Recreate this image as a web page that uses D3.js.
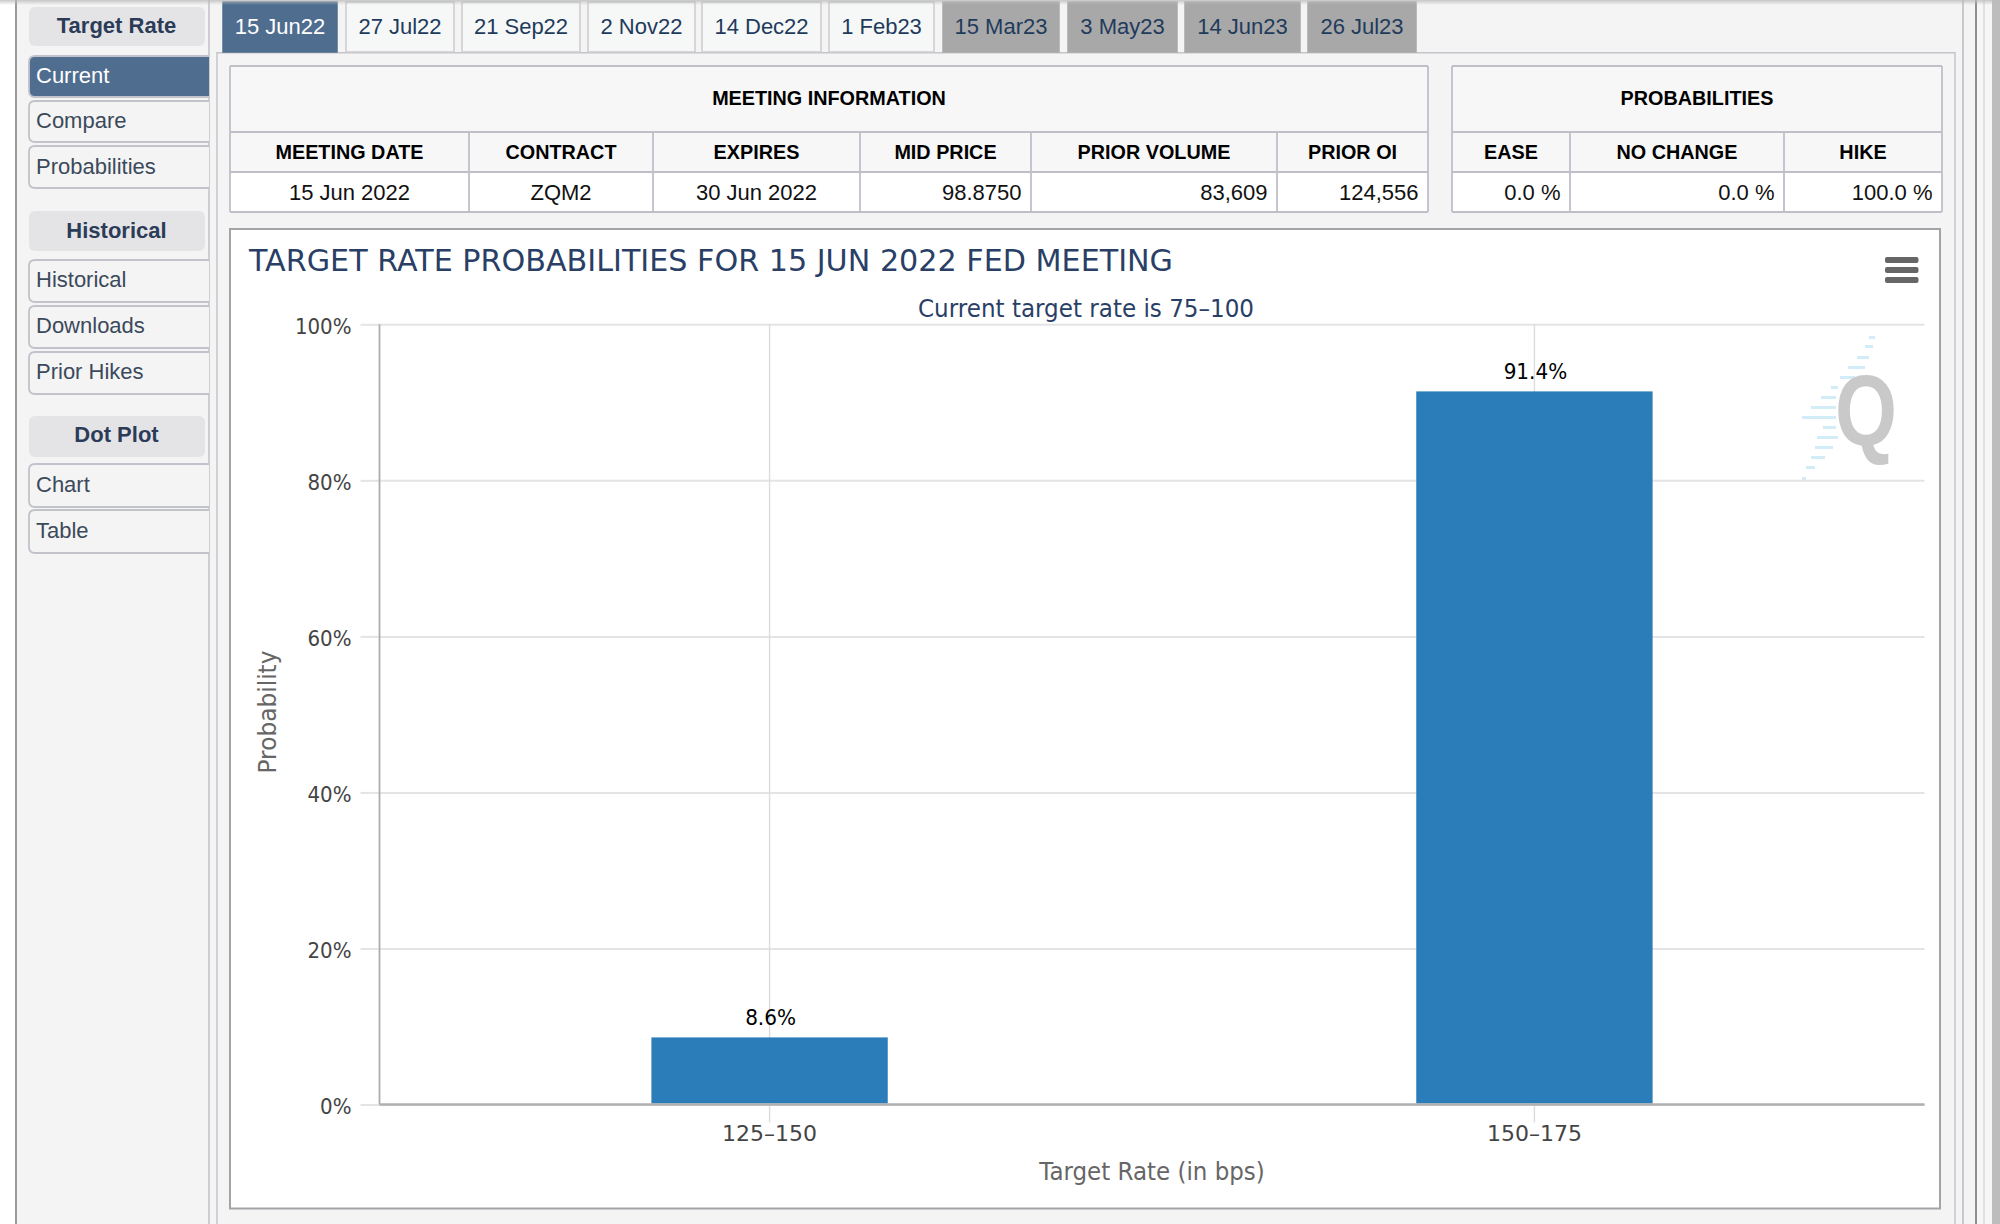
<!DOCTYPE html>
<html>
<head>
<meta charset="utf-8">
<title>Target rate probabilities</title>
<script src="https://d3js.org/d3.v7.min.js"></script>
<style>
  html, body { margin: 0; padding: 0; background: #fff; overflow: hidden; }
  svg { display: block; }
  .ui { font-family: "Liberation Sans", Arial, sans-serif; }
  .hc { font-family: "DejaVu Sans", sans-serif; }
  .grid path { display: none; }
</style>
</head>
<body>
<svg id="chart" width="2000" height="1224"></svg>
<script>
// data
const categories = ["125-150", "150-175"]
const probabilities = [8.6, 91.4]
const yTicks = [0, 20, 40, 60, 80, 100]

const tabLabels = ["15 Jun22", "27 Jul22", "21 Sep22", "2 Nov22", "14 Dec22", "1 Feb23", "15 Mar23", "3 May23", "14 Jun23", "26 Jul23"]
const sideHeaders = ["Target Rate", "Historical", "Dot Plot"]
const sideItems = ["Current", "Compare", "Probabilities", "Historical", "Downloads", "Prior Hikes", "Chart", "Table"]

const meetingHeads = ["MEETING DATE", "CONTRACT", "EXPIRES", "MID PRICE", "PRIOR VOLUME", "PRIOR OI"]
const meetingValues = ["15 Jun 2022", "ZQM2", "30 Jun 2022", "98.8750", "83,609", "124,556"]
const probHeads = ["EASE", "NO CHANGE", "HIKE"]
const probValues = ["0.0 %", "0.0 %", "100.0 %"]

// layout of the page around the chart
const tabEdges = [[223, 337], [346, 454], [462, 580], [588, 695], [702, 821], [829, 934], [943, 1059], [1068, 1177], [1185, 1300], [1308, 1416]]
const headerBoxes = [[7, 46], [211, 251], [416, 457]]
const headerBaselines = [32.5, 237.5, 441.5]
const itemBoxes = [[56, 97], [101, 142], [146, 188], [260, 302], [306, 348], [352, 394], [464, 507], [510, 553]]
const itemBaselines = [82.5, 127.5, 173.5, 287, 333, 379, 492, 537.5]
const meetingEdges = [230, 469, 653, 860, 1031, 1277, 1428]
const probEdges = [1452, 1570, 1784, 1942]
const rowY = [66, 132, 172, 212]
const margin = { left: 379.5, right: 1924.5, top: 324.3, bottom: 1104.5 }

// dashes of the logo behind the Q: [x1, x2, y]
const logoDashes = [[1869, 1875, 336], [1865, 1873, 345], [1857, 1869, 356], [1848, 1865, 366], [1840, 1855, 376], [1831, 1838, 386], [1821, 1836, 396], [1811, 1836, 406], [1802, 1836, 416], [1823, 1836, 426], [1817, 1838, 436], [1815, 1833, 446], [1811, 1825, 456], [1806, 1815, 466], [1802, 1806, 477]]

let svg = d3.select("#chart")

function vline(x, y1, y2, color, w) {
    svg.append("line").attr("x1", x).attr("x2", x).attr("y1", y1).attr("y2", y2)
        .attr("stroke", color).attr("stroke-width", w || 1.5)
}

// the reference type is a little narrower than DejaVu
function squeeze(sel, f) {
    sel.each(function () {
        d3.select(this).attr("textLength", this.getComputedTextLength() * f).attr("lengthAdjust", "spacingAndGlyphs")
    })
}

// page background and the frame lines
svg.append("rect").attr("x", 16).attr("width", 1960).attr("height", 1224).attr("fill", "#f4f4f5")
svg.append("rect").attr("x", 1977).attr("width", 15).attr("height", 1224).attr("fill", "#f6f6f7")
svg.append("rect").attr("x", 1992).attr("width", 8).attr("height", 1224).attr("fill", "#bdbdbd")
vline(16, 0, 1224, "#9a9a9a", 2)
vline(209, 0, 1224, "#c0c0c8")
vline(1963, 0, 1224, "#b8b8c0")
vline(1976, 0, 1224, "#8e8e8e", 2)
vline(1984, 0, 1224, "#d8d8dc")

let shadow = svg.append("defs").append("linearGradient").attr("id", "topShade").attr("x2", 0).attr("y2", 1)
shadow.append("stop").attr("offset", 0).attr("stop-color", "#bbb").attr("stop-opacity", 0.8)
shadow.append("stop").attr("offset", 1).attr("stop-color", "#bbb").attr("stop-opacity", 0)

// content panel
svg.append("path").attr("d", "M217,1224V52.7H1955V1224").attr("fill", "none")
    .attr("stroke", "#c4c4ca").attr("stroke-width", 1.5)

// tabs
let tabs = svg.selectAll("g.tab").data(tabLabels).enter().append("g").attr("class", "tab ui")
tabs.append("rect")
    .attr("x", (d, i) => tabEdges[i][0]).attr("y", 2)
    .attr("width", (d, i) => tabEdges[i][1] - tabEdges[i][0]).attr("height", 50)
    .attr("fill", (d, i) => i == 0 ? "#4f6d8f" : i < 6 ? "#f6f7f7" : "#a8a8a8")
    .attr("stroke", (d, i) => i == 0 ? "#4f6d8f" : i < 6 ? "#cbcbcf" : "#a8a8a8")
    .attr("stroke-width", 1.5)
tabs.append("text")
    .attr("x", (d, i) => (tabEdges[i][0] + tabEdges[i][1]) / 2).attr("y", 34)
    .attr("text-anchor", "middle").attr("font-size", 22)
    .attr("fill", (d, i) => i == 0 ? "#fff" : "#1f3b5c")
    .text(d => d)

// the small shadow along the top of the window
svg.append("rect").attr("width", 2000).attr("height", 5).attr("fill", "url(#topShade)")

// sidebar
let heads = svg.selectAll("g.head").data(sideHeaders).enter().append("g").attr("class", "head ui")
heads.append("rect")
    .attr("x", 29).attr("y", (d, i) => headerBoxes[i][0])
    .attr("width", 176).attr("height", (d, i) => headerBoxes[i][1] - headerBoxes[i][0])
    .attr("rx", 6).attr("fill", "#e4e4e6")
heads.append("text")
    .attr("x", 116.5).attr("y", (d, i) => headerBaselines[i])
    .attr("text-anchor", "middle").attr("font-size", 22).attr("font-weight", "bold")
    .attr("fill", "#2c3c58")
    .text(d => d)

let items = svg.selectAll("g.item").data(sideItems).enter().append("g").attr("class", "item ui")
items.append("path")
    .attr("d", (d, i) => {
        let [a, b] = itemBoxes[i]
        return `M209,${a}H35Q29,${a} 29,${a + 6}V${b - 6}Q29,${b} 35,${b}H209`
    })
    .attr("fill", (d, i) => i == 0 ? "#4f6d8f" : "#f4f4f5")
    .attr("stroke", "#c2c2ca").attr("stroke-width", 1.8)
items.append("text")
    .attr("x", 36).attr("y", (d, i) => itemBaselines[i])
    .attr("font-size", 22)
    .attr("fill", (d, i) => i == 0 ? "#fff" : "#3b4a5a")
    .text(d => d)

// information tables
function drawTable(title, edges, headers, values, alignRight) {
    let g = svg.append("g").attr("class", "ui")
    let left = edges[0], right = edges[edges.length - 1]
    g.append("rect").attr("x", left).attr("y", rowY[0]).attr("width", right - left).attr("height", rowY[2] - rowY[0]).attr("fill", "#f7f7f8")
    g.append("rect").attr("x", left).attr("y", rowY[2]).attr("width", right - left).attr("height", rowY[3] - rowY[2]).attr("fill", "#fff")
    rowY.forEach(y => g.append("line").attr("x1", left).attr("x2", right).attr("y1", y).attr("y2", y)
        .attr("stroke", "#bfbfc8").attr("stroke-width", 1.8))
    edges.forEach((x, i) => {
        let top = (i == 0 || i == edges.length - 1) ? rowY[0] : rowY[1]
        g.append("line").attr("x1", x).attr("x2", x).attr("y1", top).attr("y2", rowY[3])
            .attr("stroke", "#bfbfc8").attr("stroke-width", 1.8)
    })
    g.append("text").attr("x", (left + right) / 2).attr("y", 104.5)
        .attr("text-anchor", "middle").attr("font-size", 19.8).attr("font-weight", "bold").attr("fill", "#000")
        .text(title)
    g.selectAll("text.h").data(headers).enter().append("text").attr("class", "h")
        .attr("x", (d, i) => (edges[i] + edges[i + 1]) / 2).attr("y", 159)
        .attr("text-anchor", "middle").attr("font-size", 19.8).attr("font-weight", "bold").attr("fill", "#000")
        .text(d => d)
    g.selectAll("text.v").data(values).enter().append("text").attr("class", "v")
        .attr("x", (d, i) => alignRight(i) ? edges[i + 1] - 9.5 : (edges[i] + edges[i + 1]) / 2).attr("y", 200)
        .attr("text-anchor", (d, i) => alignRight(i) ? "end" : "middle")
        .attr("font-size", 22).attr("fill", "#111")
        .text(d => d)
}
drawTable("MEETING INFORMATION", meetingEdges, meetingHeads, meetingValues, i => i > 2)
drawTable("PROBABILITIES", probEdges, probHeads, probValues, i => true)

// chart box
svg.append("rect").attr("x", 230).attr("y", 229).attr("width", 1710).attr("height", 979.5)
    .attr("fill", "#fff").attr("stroke", "#a4a4a8").attr("stroke-width", 2)

let chart = svg.append("g").attr("class", "hc")

chart.append("text").attr("x", 249).attr("y", 271)
    .attr("font-size", 31).attr("fill", "#2a3f66").attr("textLength", 924).attr("lengthAdjust", "spacingAndGlyphs")
    .text("TARGET RATE PROBABILITIES FOR 15 JUN 2022 FED MEETING")
chart.append("text").attr("x", 1086).attr("y", 317)
    .attr("text-anchor", "middle").attr("font-size", 24).attr("fill", "#2a3f66").attr("textLength", 336).attr("lengthAdjust", "spacingAndGlyphs")
    .text("Current target rate is 75\u2013100")

// watermark
chart.selectAll("rect.logo").data(logoDashes).enter().append("rect").attr("class", "logo")
    .attr("x", d => d[0]).attr("y", d => d[2]).attr("width", d => d[1] - d[0]).attr("height", 3)
    .attr("fill", "#d3edf8")
chart.append("text").attr("x", 1866).attr("y", 445).attr("text-anchor", "middle")
    .attr("font-family", "Liberation Sans").attr("font-size", 100).attr("font-weight", "bold").attr("fill", "#c9c9c9")
    .attr("textLength", 62).attr("lengthAdjust", "spacingAndGlyphs")
    .text("Q")

// scales and axes
let x = d3.scaleBand().domain(categories).range([margin.left, margin.right]).paddingInner(0).paddingOuter(0.01)
let y = d3.scaleLinear().domain([0, 100]).range([margin.bottom, margin.top])
let barWidth = x.bandwidth() * 0.309
let plotWidth = margin.right - margin.left
let plotHeight = margin.bottom - margin.top

chart.append("g").attr("class", "grid").attr("transform", `translate(${margin.left},0)`)
    .call(d3.axisLeft(y).tickValues(yTicks).tickSize(-plotWidth).tickFormat(""))
    .selectAll("line").attr("stroke", "#e4e4e6").attr("stroke-width", 2)

chart.append("g").attr("class", "grid").attr("transform", `translate(0,${margin.bottom})`)
    .call(d3.axisBottom(x).tickSize(-plotHeight).tickFormat(""))
    .selectAll("line").attr("stroke", "#dcdcde").attr("stroke-width", 1.4)

let yAxis = chart.append("g").attr("transform", `translate(${margin.left},0)`)
    .call(d3.axisLeft(y).tickValues(yTicks).tickSize(19).tickPadding(9).tickFormat(d => d + "%"))
yAxis.select("path").remove()
yAxis.selectAll("line").attr("stroke", "#e4e4e6").attr("stroke-width", 2)
yAxis.selectAll("text").attr("font-size", 22).attr("font-family", "DejaVu Sans").attr("fill", "#444").attr("dy", "0.42em")
squeeze(yAxis.selectAll("text"), 0.9)

let xAxis = chart.append("g").attr("transform", `translate(0,${margin.bottom})`)
    .call(d3.axisBottom(x).tickSize(18).tickPadding(2.5).tickFormat(d => d.replace("-", "\u2013")))
xAxis.select("path").remove()
xAxis.selectAll("line").attr("stroke", "#dcdcde").attr("stroke-width", 1.4)
xAxis.selectAll("text").attr("font-size", 22).attr("font-family", "DejaVu Sans").attr("fill", "#444")

chart.selectAll("rect.bar").data(probabilities).enter().append("rect").attr("class", "bar")
    .attr("x", (d, i) => x(categories[i]) + x.bandwidth() / 2 - barWidth / 2)
    .attr("y", d => y(d))
    .attr("width", barWidth)
    .attr("height", d => y(0) - y(d) - 1)
    .attr("fill", "#2a7db8")

let barLabels = chart.selectAll("text.lab").data(probabilities).enter().append("text").attr("class", "lab")
    .attr("x", (d, i) => x(categories[i]) + x.bandwidth() / 2 + 1)
    .attr("y", d => y(d) - 12.5)
    .attr("text-anchor", "middle").attr("font-size", 22).attr("fill", "#000")
    .text(d => d + "%")
squeeze(barLabels, 0.91)

// axis lines on top of the bars
chart.append("line").attr("x1", margin.left).attr("x2", margin.left).attr("y1", y(100)).attr("y2", y(0))
    .attr("stroke", "#adadad").attr("stroke-width", 1.8)
chart.append("line").attr("x1", margin.left).attr("x2", margin.right).attr("y1", y(0)).attr("y2", y(0))
    .attr("stroke", "#b0b0b0").attr("stroke-width", 2.5)

let xTitle = chart.append("text").attr("x", 1152).attr("y", 1179.5)
    .attr("text-anchor", "middle").attr("font-size", 24).attr("fill", "#666")
    .text("Target Rate (in bps)")
squeeze(xTitle, 0.957)
let yTitle = chart.append("text").attr("transform", "translate(276,712) rotate(-90)")
    .attr("text-anchor", "middle").attr("font-size", 24).attr("fill", "#666")
    .text("Probability")
squeeze(yTitle, 0.97)

// export menu button
chart.selectAll("rect.menu").data([0, 1, 2]).enter().append("rect").attr("class", "menu")
    .attr("x", 1885).attr("y", d => 257 + d * 10).attr("width", 33.5).attr("height", 6)
    .attr("rx", 2).attr("fill", "#666")
</script>
</body>
</html>
